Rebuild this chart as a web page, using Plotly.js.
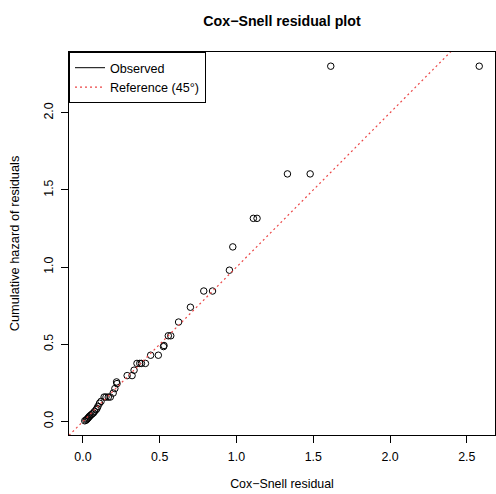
<!DOCTYPE html>
<html>
<head>
<meta charset="utf-8">
<script src="https://cdn.plot.ly/plotly-3.0.1.min.js"></script>
<style>html,body{margin:0;padding:0;background:#fff}#chart{width:496px;height:494px}</style>
</head>
<body>
<div id="chart"></div>
<script>
// Cox-Snell residuals (x) and Nelson-Aalen cumulative hazard of residuals (y)
var residual = [
  2.581, 1.614, 1.480, 1.332, 1.134, 1.110, 0.976, 0.954, 0.844, 0.787,
  0.700, 0.623, 0.572, 0.556, 0.528, 0.525, 0.491, 0.441, 0.407, 0.381,
  0.370, 0.352, 0.333, 0.320, 0.288, 0.219, 0.222, 0.208, 0.197, 0.178,
  0.165, 0.150, 0.138, 0.118, 0.108, 0.098, 0.092, 0.086, 0.076, 0.068,
  0.060, 0.052, 0.045, 0.040, 0.035, 0.030, 0.025, 0.020, 0.012
];
var cumHazard = [
  2.302, 2.302, 1.604, 1.604, 1.316, 1.316, 1.131, 0.980, 0.845, 0.845,
  0.740, 0.644, 0.555, 0.555, 0.492, 0.485, 0.429, 0.429, 0.376, 0.376,
  0.376, 0.376, 0.332, 0.297, 0.297, 0.256, 0.245, 0.213, 0.184, 0.158,
  0.158, 0.158, 0.158, 0.130, 0.118, 0.098, 0.085, 0.076, 0.065, 0.055,
  0.048, 0.042, 0.035, 0.030, 0.024, 0.018, 0.013, 0.008, 0.004
];
var xTickVals = [0, 0.5, 1, 1.5, 2, 2.5];
var xTickText = ["0.0", "0.5", "1.0", "1.5", "2.0", "2.5"];
var yTickVals = [0, 0.5, 1, 1.5, 2];
var yTickText = ["0.0", "0.5", "1.0", "1.5", "2.0"];
var legendNames = ["Observed", "Reference (45°)"];

function rRange(v) {
  var mn = Math.min.apply(null, v), mx = Math.max.apply(null, v);
  var d = (mx - mn) * 0.04;
  return [mn - d, mx + d];
}
var xr = rRange(residual);
var yr = rRange(cumHazard);
var refX = [xr[0], xr[1]];
var refY = [xr[0], xr[1]]; // 45-degree line y = x

var font = "Liberation Sans, Arial, Helvetica, sans-serif";

var traces = [
  {
    x: residual, y: cumHazard, type: "scatter", mode: "markers",
    marker: {symbol: "circle-open", size: 6.5, color: "#000", line: {width: 1, color: "#000"}},
    showlegend: false, hoverinfo: "x+y", cliponaxis: false
  },
  {
    x: [null], y: [null], type: "scatter", mode: "lines",
    line: {color: "#000", width: 1}, name: legendNames[0]
  },
  {
    x: refX, y: refY, type: "scatter", mode: "lines",
    line: {color: "rgb(235,70,70)", width: 1.2, dash: "2px,3px"}, name: legendNames[1]
  }
];

var axisCommon = {
  showgrid: false, zeroline: false, showline: true, mirror: true,
  linecolor: "#000", linewidth: 1, ticks: "outside", ticklen: 7, tickwidth: 1,
  tickcolor: "#000", tickfont: {family: font, size: 12.4, color: "#000"},
  ticklabelstandoff: 3
};

var layout = {
  width: 496, height: 494,
  margin: {l: 69, r: 1, t: 52, b: 59},
  paper_bgcolor: "#fff", plot_bgcolor: "#fff",
  font: {family: font, size: 12, color: "#000"},
  title: {
    text: "<b>Cox−Snell residual plot</b>",
    font: {family: font, size: 14.2, color: "#000"},
    x: 0.5, xref: "paper", y: 1 - 21 / 494, yref: "container", yanchor: "middle"
  },
  xaxis: Object.assign({}, axisCommon, {
    range: xr, tickmode: "array", tickvals: xTickVals, ticktext: xTickText,
    title: {text: "Cox−Snell residual", font: {family: font, size: 12.4, color: "#000"}, standoff: 16}
  }),
  yaxis: Object.assign({}, axisCommon, {
    range: yr, tickmode: "array", tickvals: yTickVals, ticktext: yTickText, tickangle: -90,
    title: {text: "Cumulative hazard of residuals", font: {family: font, size: 12.8, color: "#000"}, standoff: 19}
  }),
  legend: {
    x: 0, y: 1, xanchor: "left", yanchor: "top", xref: "paper", yref: "paper",
    bgcolor: "#fff", bordercolor: "#000", borderwidth: 1,
    font: {family: font, size: 12.6, color: "#000"},
    tracegroupgap: 0, itemwidth: 30
  },
  showlegend: true
};

Plotly.newPlot("chart", traces, layout, {displayModeBar: false, staticPlot: true});
</script>
</body>
</html>
